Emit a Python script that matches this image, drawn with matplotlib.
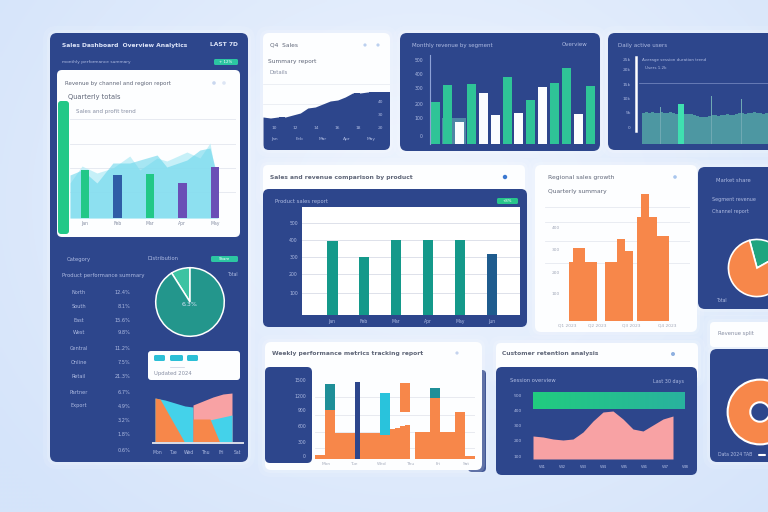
import numpy as np
import matplotlib
matplotlib.use("Agg")
import matplotlib.pyplot as plt
from matplotlib.patches import FancyBboxPatch, Rectangle, Circle

# ---------------- data ----------------
# top-left card: bars over a mountain-like area
q_labels = ["Jan", "Feb", "Mar", "Apr", "May"]
q_values = [48, 43, 44, 35, 51]
ridge_x = [-0.46, -0.09, 0.37, 0.86, 1.38, 1.69, 2.22, 2.52, 3.14, 3.54, 3.85, 4.09]
ridge_front = [43, 48, 35, 55, 55, 58, 63, 51, 58, 68, 70, 40]
ridge_back = [35, 52, 45, 50, 62, 48, 60, 57, 66, 60, 75, 30]

# left panel: share pie and list
share_vals = [9, 91]
list_left = ["North", "South", "East", "West", "Central", "Online", "Retail", "Partner", "Export"]
list_right = ["12.4%", "8.1%", "15.6%", "9.8%", "11.2%", "7.5%", "21.3%", "6.7%",
              "4.9%", "3.2%", "1.8%", "0.6%"]

# left panel: small layered area chart
mixA_x = [0, 10, 20, 30, 38]
mixA_cyan = [45, 43, 40, 37, 36]
mixA_orange_x = [0, 5, 30]
mixA_orange = [45, 44, 0]
mixB_x = [38, 48, 58, 68, 77]
mixB_pink = [38, 42, 46, 49, 50]
mixB_cyan_x = [50, 77]
mixB_cyan = [22, 28]
mixB_orange_x = [38, 55, 65]
mixB_orange = [24, 24, 0]
mix_labels = ["Mon", "Tue", "Wed", "Thu", "Fri", "Sat"]

# top-middle: navy area
trend_vals = [33, 32, 33, 33, 35, 37, 42, 43, 46, 49, 50, 53, 57, 57, 58, 58, 58, 58]

# top-middle-right: green / white bars
mix_bar_vals = [47, 66, 25, 67, 57, 33, 75, 35, 49, 64, 69, 85, 34, 65]
mix_bar_kind = ["g", "g", "w", "g", "w", "w", "g", "w", "g", "w", "g", "g", "w", "g"]
mix_bar_back = [0, 29, 29, 0, 0, 0, 0, 0, 0, 0, 0, 0, 0, 0]
mix_ylabels = ["500", "400", "300", "200", "100", "0"]

# top-right: dense daily bars
daily_vals = [31, 32, 31, 32, 31, 31, 32, 31, 31, 32, 31, 30, 40, 40, 30, 30, 30, 29, 28, 27, 27,
              27, 28, 29, 29, 28, 29, 29, 30, 29, 29, 30, 31, 31, 30, 31, 31, 32, 31, 31, 30, 31]
spike_idx = [6, 23, 33]
spike_vals = [37, 48, 45]
highlight_idx = [12, 13]
daily_ylabels = ["25k", "20k", "15k", "10k", "5k", "0"]

# middle: product bars
prod_labels = ["Jan", "Feb", "Mar", "Apr", "May", "Jun"]
prod_vals = [68.5, 54, 69.5, 69.5, 69.5, 56.5]
prod_ylabels = ["500", "400", "300", "200", "100"]

# middle-right: orange step bars
region_vals = [59, 73, 73, 73, 59, 59, 59, 0, 0, 59, 59, 59, 82, 82, 70, 70, 0,
               104, 127, 127, 104, 104, 85, 85, 85]
region_labels = ["Q1 2023", "Q2 2023", "Q3 2023", "Q4 2023"]
region_ylabels = ["400", "300", "200", "100"]

# bottom-middle: weekly mixed bars
week_base = [4, 4, 49, 49, 26, 26, 26, 26, 77, 26, 26, 26, 26, 26, 28, 30, 31, 33, 34, 0,
             27, 27, 27, 61, 61, 27, 27, 27, 47, 47, 3, 3]
week_cap_slots = [2, 3, 23, 24]
week_cap_low = [49, 49, 61, 61]
week_cap_high = [75, 75, 71, 71]
week_float_slots = [13, 14, 17, 18]
week_float_low = [24, 24, 47, 47]
week_float_high = [66, 66, 76, 76]
week_ylabels = ["1500", "1200", "900", "600", "300", "0"]
week_labels = ["Mon", "Tue", "Wed", "Thu", "Fri", "Sat"]

# bottom-middle-right: retention
ret_vals = [23, 22, 20, 19, 20, 27, 38, 47, 48, 40, 30, 28, 34, 40, 43]
ret_target = (50, 67)
ret_ylabels = ["500", "400", "300", "200", "100"]
ret_labels = ["W1", "W2", "W3", "W4", "W5", "W6", "W7", "W8"]

# right side pies
market_vals = [21, 79]
donut_vals = [100]

# ---------------- style ----------------
W, H = 768, 512
NAVY = "#2d468c"
WHITE = "#fdfeff"
ORANGE = "#f7874a"
TEAL = "#14998a"
GREEN = "#22c887"
CYAN = "#44d2ea"
PINK = "#f8a2a4"
PURPLE = "#6a4fb6"
BLUE = "#2f5da6"
GRAY = "#868ea3"
DARKGRAY = "#5f6678"
LIGHT = "#aebbe2"

fig = plt.figure(figsize=(W / 100, H / 100), dpi=100)
bg = fig.add_axes([0, 0, 1, 1])
bg.axis("off")

yy, xx = np.mgrid[0:H:4, 0:W:4]
d = np.sqrt(((xx - 420) / 520) ** 2 + ((yy - 200) / 430) ** 2)
t = np.clip(d, 0, 1)[..., None]
c0 = np.array([238, 244, 254]) / 255
c1 = np.array([213, 228, 250]) / 255
bg.imshow(c0 * (1 - t) + c1 * t, extent=(0, W, H, 0), zorder=0, aspect="auto",
          interpolation="bilinear")
bg.set_xlim(0, W)
bg.set_ylim(H, 0)

fg = fig.add_axes([0, 0, 1, 1])
fg.axis("off")
fg.set_xlim(0, W)
fg.set_ylim(H, 0)
fg.set_zorder(20)
fg.patch.set_alpha(0)


def panel(x0, y0, x1, y1, fc, r=6, z=1, glow=True):
    if glow:
        for k, a in [(7, 0.10), (3, 0.16)]:
            bg.add_patch(FancyBboxPatch((x0 - k, y0 - k), x1 - x0 + 2 * k, y1 - y0 + 2 * k,
                                        boxstyle=f"round,pad=0,rounding_size={r + k}",
                                        fc="white", ec="none", alpha=a, zorder=z))
    p = FancyBboxPatch((x0, y0), x1 - x0, y1 - y0,
                       boxstyle=f"round,pad=0,rounding_size={r}",
                       fc=fc, ec="none", zorder=z)
    bg.add_patch(p)
    return p


def txt(x, y, s, size=4.2, color=GRAY, ha="left", weight="normal"):
    fg.text(x, y, s, fontsize=size, color=color, ha=ha, va="center", fontweight=weight)


def tag(x0, y0, x1, y1, fc, s="", tc="white"):
    fg.add_patch(FancyBboxPatch((x0, y0), x1 - x0, y1 - y0,
                                boxstyle="round,pad=0,rounding_size=1.5", fc=fc, ec="none"))
    if s:
        fg.text((x0 + x1) / 2, (y0 + y1) / 2, s, fontsize=2.8, color=tc, ha="center", va="center")


def dot(x, y, c, r=2.2):
    fg.add_patch(Circle((x, y), r, fc=c, ec="none"))


def sub(x0, y0, x1, y1, z=3, fc="none"):
    ax = fig.add_axes([x0 / W, 1 - y1 / H, (x1 - x0) / W, (y1 - y0) / H])
    ax.set_facecolor(fc)
    for s in ax.spines.values():
        s.set_visible(False)
    ax.set_xticks([])
    ax.set_yticks([])
    ax.set_zorder(z)
    return ax


# ---------------- panels ----------------
panel(50, 33, 248, 462, NAVY, r=7)
panel(57, 70, 240, 237, WHITE, r=5, z=2, glow=False)
bg.add_patch(FancyBboxPatch((58, 101), 11, 133, boxstyle="round,pad=0,rounding_size=3",
                            fc=GREEN, ec="none", zorder=3))
panel(148, 351, 240, 380, WHITE, r=3, z=3, glow=False)

card_b = panel(263, 33, 390, 150, WHITE, r=6)
panel(400, 33, 600, 151, NAVY, r=7)
panel(608, 33, 790, 150, NAVY, r=7)

panel(263, 165, 525, 200, WHITE, r=5)
panel(263, 189, 527, 327, NAVY, r=6, z=2, glow=False)
panel(535, 165, 697, 332, WHITE, r=6)

bg.add_patch(FancyBboxPatch((468, 370), 18, 102, boxstyle="round,pad=0,rounding_size=4",
                            fc=NAVY, ec="none", zorder=1))
panel(265, 342, 482, 470, WHITE, r=6, z=2)
panel(265, 367, 312, 463, NAVY, r=5, z=3, glow=False)

panel(496, 343, 698, 380, WHITE, r=5)
panel(496, 367, 697, 475, NAVY, r=6, z=2, glow=False)

panel(698, 167, 790, 309, NAVY, r=7)
panel(710, 322, 790, 347, WHITE, r=4)
panel(710, 349, 790, 462, NAVY, r=7)

# ---------------- chart A: top-left card ----------------
ax = sub(70, 115, 236, 218)
ax.set_xlim(-0.46, 4.65)
ax.set_ylim(0, 103)
for v in [26, 50, 74, 99]:
    ax.axhline(v, color="#e3e7ef", lw=0.6, zorder=0)
ax.fill_between(ridge_x, 0, ridge_back, color="#bdeef7", alpha=0.85, lw=0, zorder=1)
ax.fill_between(ridge_x, 0, ridge_front, color="#5fd3ea", alpha=0.55, lw=0, zorder=2)
ax.bar(range(len(q_values)), q_values, width=0.26,
       color=[GREEN, BLUE, GREEN, PURPLE, PURPLE], zorder=3)
ax.set_xticks(range(len(q_labels)))
ax.set_xticklabels(q_labels, fontsize=3.3, color=GRAY)
ax.tick_params(length=0, pad=2)

txt(62, 45, "Sales Dashboard  Overview Analytics", 4.3, "#dfe6fa", weight="bold")
txt(238, 45, "LAST 7D", 4.3, "#dfe6fa", ha="right", weight="bold")
txt(62, 62, "monthly performance summary", 3.2, LIGHT)
tag(214, 59, 238, 65, "#2cc6a2", "+ 12%")
txt(65, 83, "Revenue by channel and region report", 4.0, DARKGRAY)
dot(214, 83, "#c9d7ef", 1.8)
dot(224, 83, "#dde6f5", 1.8)
txt(68, 97, "Quarterly totals", 4.8, DARKGRAY)
txt(76, 111, "Sales and profit trend", 4.0, GRAY)

# ---------------- left panel lower ----------------
txt(67, 259, "Category", 3.8, LIGHT)
txt(148, 259, "Distribution", 3.8, LIGHT)
tag(211, 256, 238, 262, "#2cc6a2", "Share")
txt(227, 275, "Total", 3.3, LIGHT)
txt(62, 276, "Product performance summary", 3.8, LIGHT)
row_y = [292, 306, 320, 333, 348, 363, 377, 392, 406, 421, 435, 451]
for i, lab in enumerate(list_left):
    txt(79, row_y[i], lab, 3.6, LIGHT, ha="center")
for i, lab in enumerate(list_right):
    txt(130, row_y[i], lab, 3.6, LIGHT, ha="right")

ax = sub(154, 266, 226, 338)
ax.pie(share_vals, colors=["#3dc3a2", "#23968c"], startangle=90,
       wedgeprops=dict(edgecolor="white", linewidth=1.1))
ax.set_xlim(-1.05, 1.05)
ax.set_ylim(-1.05, 1.05)
txt(190, 304, "6.3%", 4.5, "#d7e3f7", ha="center")

for x0, x1 in [(154, 165), (170, 183), (187, 198)]:
    tag(x0, 355, x1, 361, "#2bbfd6")
fg.plot([170, 184], [367, 367], color="#c7cede", lw=0.5)
txt(154, 373, "Updated 2024", 3.8, GRAY)

ax = sub(153, 390, 243, 443)
ax.set_xlim(-2, 88)
ax.set_ylim(0, 53)
ax.fill_between(mixA_x, 0, mixA_cyan, color=CYAN, lw=0)
ax.fill_between(mixA_orange_x, 0, mixA_orange, color=ORANGE, lw=0)
ax.fill_between(mixB_x, 0, mixB_pink, color=PINK, lw=0)
ax.fill_between(mixB_cyan_x, 0, mixB_cyan, color=CYAN, lw=0)
ax.fill_between(mixB_orange_x, 0, mixB_orange, color=ORANGE, lw=0)
ax.axhline(0, color="#d9dde8", lw=1.4, clip_on=False)
for i, lab in enumerate(mix_labels):
    txt(157 + i * 16, 453, lab, 3.3, LIGHT, ha="center")

# ---------------- chart B: top-middle navy area ----------------
ax = sub(263, 83, 390, 150)
ax.set_xlim(0, len(trend_vals) - 1)
ax.set_ylim(0, 67)
ax.axhline(46, color="#e6e9f0", lw=0.5, zorder=0)
ax.axhline(66.5, color="#e6e9f0", lw=0.5, zorder=0)
area = ax.fill_between(range(len(trend_vals)), 0, trend_vals, color=NAVY, lw=0)
area.set_clip_path(card_b)
txt(270, 45, "Q4  Sales", 4.2, DARKGRAY)
dot(365, 45, "#bcd0ef", 1.6)
dot(378, 45, "#bcd0ef", 1.6)
txt(268, 62, "Summary report", 4.2, DARKGRAY)
txt(270, 72, "Details", 3.8, GRAY)
for yv, s in [(102, "40"), (115, "30"), (128, "20")]:
    txt(383, yv, s, 3.2, LIGHT, ha="right")
for i, s in enumerate(["10", "12", "14", "16", "18"]):
    txt(274 + i * 21, 128, s, 3.2, LIGHT, ha="center")
for i, s in enumerate(["Jan", "Feb", "Mar", "Apr", "May"]):
    txt(275 + i * 24, 139, s, 3.2, LIGHT, ha="center")

# ---------------- chart C: green/white bars ----------------
ax = sub(430, 55, 596, 144)
ax.set_xlim(-0.5, len(mix_bar_vals) - 0.5)
ax.set_ylim(0, 100)
ax.spines["left"].set_visible(True)
ax.spines["left"].set_color("#8ea2d6")
ax.spines["left"].set_linewidth(0.8)
ax.bar(range(len(mix_bar_back)), mix_bar_back, width=1.0, color="#4f86a6", lw=0)
kind_col = {"g": "#2fc497", "w": "#fbfdff"}
ax.bar(range(len(mix_bar_vals)), mix_bar_vals, width=0.75,
       color=[kind_col[k] for k in mix_bar_kind], lw=0)
txt(412, 45, "Monthly revenue by segment", 4.0, LIGHT)
txt(588, 45, "Overview", 4.0, LIGHT, ha="right")
for yv, s in zip([60, 74, 89, 104, 119, 137], mix_ylabels):
    txt(423, yv, s, 3.3, LIGHT, ha="right")

# ---------------- chart D: dense daily bars ----------------
ax = sub(636, 57, 768, 144)
ax.set_xlim(-2, 42)
ax.set_ylim(0, 87)
ax.spines["left"].set_visible(True)
ax.spines["left"].set_color("white")
ax.spines["left"].set_linewidth(1.8)
ax.spines["left"].set_bounds(13, 87)
ax.axhline(61, color="#7d90c6", lw=0.5, xmin=0.02)
cols = ["#3fe0b0" if i in highlight_idx else "#4d97a2" for i in range(len(daily_vals))]
ax.bar(range(len(daily_vals)), daily_vals, width=1.0, align="edge", color=cols, lw=0)
ax.bar(spike_idx, spike_vals, width=0.35, align="edge", color="#6fa9b3", lw=0)
txt(618, 45, "Daily active users", 4.0, LIGHT)
txt(642, 60, "Average session duration trend", 3.0, LIGHT)
txt(645, 68, "Users 1.2k", 3.0, LIGHT)
for yv, s in zip([60, 70, 85, 99, 113, 128], daily_ylabels):
    txt(631, yv, s, 3.2, LIGHT, ha="right")

# ---------------- chart E: product bars ----------------
ax = sub(302, 207, 520, 315, fc="white")
ax.set_xlim(-0.94, 5.875)
ax.set_ylim(0, 100)
grid_e = [20, 38, 54, 69, 85]
for v in grid_e:
    ax.axhline(v, color="#d8dce6", lw=0.6, zorder=0)
ax.bar(range(len(prod_vals)), prod_vals, width=0.34,
       color=[TEAL] * 5 + ["#1f5c8e"], zorder=2)
ax.set_yticks(grid_e[::-1])
ax.set_yticklabels(prod_ylabels, fontsize=3.3, color=LIGHT)
ax.set_xticks(range(len(prod_labels)))
ax.set_xticklabels(prod_labels, fontsize=3.3, color=LIGHT)
ax.tick_params(length=0, pad=3)
txt(270, 177, "Sales and revenue comparison by product", 4.3, DARKGRAY, weight="bold")
dot(505, 177, "#3b78d0", 2.2)
txt(275, 201, "Product sales report", 3.8, LIGHT)
tag(497, 198, 518, 204, "#27c58a", "+8%")

# ---------------- chart F: orange step bars ----------------
ax = sub(545, 193, 690, 321)
ax.set_xlim(-6, 30.25)
ax.set_ylim(0, 128)
for v in [58, 80, 99, 114]:
    ax.axhline(v, color="#e6e9f0", lw=0.6, zorder=0)
ax.bar(range(len(region_vals)), region_vals, width=1.0, align="edge", color=ORANGE, lw=0)
for v, s in zip([93, 71, 48, 27], region_ylabels):
    ax.text(-2.2, v, s, fontsize=3.2, color="#a0a7b8", ha="right", va="center")
ax.set_xticks([-0.5, 7, 15.5, 24.5])
ax.set_xticklabels(region_labels, fontsize=3.2, color="#a0a7b8")
ax.tick_params(length=0, pad=2)
txt(548, 177, "Regional sales growth", 4.3, DARKGRAY)
txt(548, 192, "Quarterly summary", 4.3, DARKGRAY)
dot(675, 177, "#a9c6ee", 1.8)

# ---------------- chart G: weekly mixed bars ----------------
ax = sub(315, 375, 475, 459)
ax.set_xlim(0, len(week_base))
ax.set_ylim(0, 84)
for v in [11, 27, 44, 62]:
    ax.axhline(v, color="#e4e7ee", lw=0.6, zorder=0)
base_cols = [NAVY if v == max(week_base) else ORANGE for v in week_base]
ax.bar(range(len(week_base)), week_base, width=1.0, align="edge", color=base_cols, lw=0, zorder=2)
ax.bar(week_cap_slots, np.subtract(week_cap_high, week_cap_low), bottom=week_cap_low,
       width=1.0, align="edge", color="#1f8f98", lw=0, zorder=3)
ax.bar(week_float_slots, np.subtract(week_float_high, week_float_low), bottom=week_float_low,
       width=1.0, align="edge", color=["#29c3dc", "#29c3dc", ORANGE, ORANGE], lw=0, zorder=3)
txt(272, 354, "Weekly performance metrics tracking report", 4.3, DARKGRAY, weight="bold")
dot(457, 353, "#c4d3ee", 1.6)
for yv, s in zip([380, 396, 411, 427, 442, 457], week_ylabels):
    txt(306, yv, s, 3.3, LIGHT, ha="right")
for i, s in enumerate(week_labels):
    txt(326 + i * 28, 464, s, 3.2, "#a6adbd", ha="center")

# ---------------- chart H: retention ----------------
ax = sub(533, 388, 685, 459)
ax.set_xlim(0, 15.2)
ax.set_ylim(0, 71)
grad = np.linspace(0, 1, 64)[None, :, None]
gcol = (1 - grad) * np.array([0.13, 0.80, 0.50]) + grad * np.array([0.16, 0.70, 0.62])
ax.imshow(gcol, extent=(0, 15.2, ret_target[0], ret_target[1]), aspect="auto", zorder=1)
ax.set_xlim(0, 15.2)
ax.set_ylim(0, 71)
ax.fill_between(range(len(ret_vals)), 0, ret_vals, color=PINK, lw=0, zorder=2)
txt(502, 354, "Customer retention analysis", 4.3, DARKGRAY, weight="bold")
dot(673, 354, "#8fb0e0", 2.0)
txt(510, 381, "Session overview", 3.8, LIGHT)
txt(684, 381, "Last 30 days", 3.5, LIGHT, ha="right")
for yv, s in zip([396, 411, 426, 441, 457], ret_ylabels):
    txt(522, yv, s, 3.2, LIGHT, ha="right")
for i, s in enumerate(ret_labels):
    txt(542 + i * 20.5, 467, s, 3.2, LIGHT, ha="center")

# ---------------- right side pies ----------------
ax = sub(727, 238, 787, 298)
ax.pie(market_vals, colors=["#1fa57f", ORANGE], startangle=105, counterclock=False,
       wedgeprops=dict(edgecolor="white", linewidth=1.2))
ax.set_xlim(-1.05, 1.05)
ax.set_ylim(-1.05, 1.05)
txt(716, 180, "Market share", 3.8, LIGHT)
txt(712, 200, "Segment revenue", 3.5, LIGHT)
txt(712, 212, "Channel report", 3.5, LIGHT)
txt(716, 300, "Total", 3.3, LIGHT)

txt(718, 333, "Revenue split", 3.8, GRAY)
ax = sub(726, 378, 794, 446)
ax.pie(donut_vals, colors=[ORANGE], startangle=90,
       wedgeprops=dict(width=0.7, edgecolor="white", linewidth=1.5))
ax.set_xlim(-1.05, 1.05)
ax.set_ylim(-1.05, 1.05)
txt(718, 455, "Data 2024 TAB", 3.3, LIGHT)
fg.plot([759, 765], [455, 455], color="white", lw=1.5, solid_capstyle="round")

fig.savefig("out.png", dpi=100)
